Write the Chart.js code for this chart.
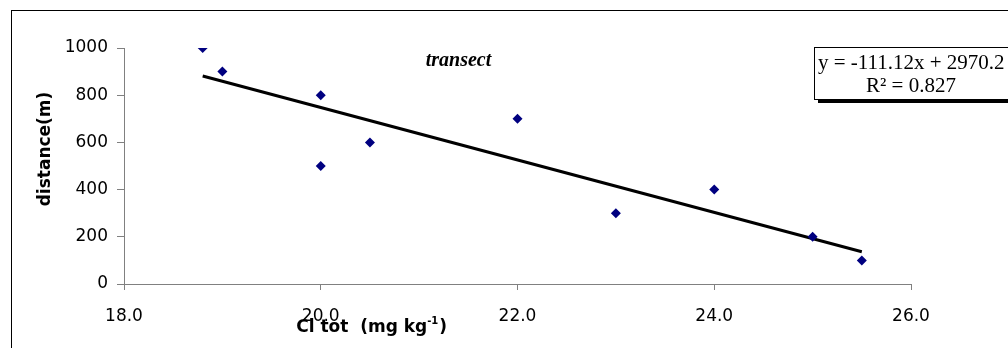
<!DOCTYPE html>
<html>
<head>
<meta charset="utf-8">
<script src="https://cdn.jsdelivr.net/npm/chart.js@4/dist/chart.umd.min.js"></script>
<style>
  html, body { margin: 0; padding: 0; background: #fff; }
  #wrap { position: relative; width: 1008px; height: 348px; overflow: hidden; }
  #frame { position: absolute; left: 11px; top: 10px; width: 1100px; height: 400px;
           border-left: 1px solid #000; border-top: 1px solid #000; }
  canvas { position: absolute; left: 0; top: 0; }
</style>
</head>
<body>
<div id="wrap">
  <div id="frame"></div>
  <canvas id="grafico" width="1008" height="348"></canvas>
</div>
<script>
// dados
const clTot = [18.8, 19.0, 20.0, 20.0, 20.5, 22.0, 23.0, 24.0, 25.0, 25.5];
const distancia = [1000, 900, 800, 500, 600, 700, 300, 400, 200, 100];
const xTicks = [18, 20, 22, 24, 26];
const yTicks = [0, 200, 400, 600, 800, 1000];

// linha de tendência (Excel)
const inclinacao = -111.12;
const intercepto = 2970.2;
const r2 = 0.827;
const trendX = [18.8, 25.5];

const cinza = '#808080';
const sans = '"DejaVu Sans", Arial, sans-serif';
const serif = '"Liberation Serif", "Times New Roman", serif';

// textos extras: título, eixos e caixa da equação
const textos = {
    id: 'textos',
    afterDraw(chart) {
        const c = chart.ctx;
        const xs = chart.scales.x, ys = chart.scales.y;
        c.save();
        c.fillStyle = '#000';

        c.font = 'italic bold 20px ' + serif;
        c.textAlign = 'center';
        c.textBaseline = 'middle';
        c.fillText('transect', xs.getPixelForValue(21.4), ys.getPixelForValue(945));

        // título do eixo x (sobrepõe o rótulo 20.0 como no original)
        c.font = 'bold 17px ' + sans;
        c.textAlign = 'left';
        c.textBaseline = 'alphabetic';
        const x0 = xs.getPixelForValue(19.75);
        const base = 332;
        const t1 = 'Cl tot  (mg kg';
        c.fillText(t1, x0, base);
        let w = c.measureText(t1).width;
        c.font = 'bold 10px ' + sans;
        c.fillText('-1', x0 + w, base - 8);
        w += c.measureText('-1').width;
        c.font = 'bold 17px ' + sans;
        c.fillText(')', x0 + w + 1, base);

        // título do eixo y
        c.save();
        c.translate(46, 149);
        c.rotate(-Math.PI / 2);
        c.font = 'bold 17px ' + sans;
        c.textAlign = 'center';
        c.textBaseline = 'middle';
        c.fillText('distance(m)', 0, 0);
        c.restore();

        // caixa da equação
        const bx = 814, by = 47, bw = 220, bh = 52;
        c.fillStyle = '#000';
        c.fillRect(bx + 4, by + 4, bw, bh);
        c.fillStyle = '#fff';
        c.fillRect(bx, by, bw, bh);
        c.strokeStyle = '#000';
        c.lineWidth = 1;
        c.strokeRect(bx + 0.5, by + 0.5, bw, bh);
        c.fillStyle = '#000';
        c.font = '21px ' + serif;
        c.textAlign = 'left';
        c.textBaseline = 'middle';
        c.fillText('y = ' + inclinacao.toFixed(2) + 'x + ' + intercepto.toFixed(1), bx + 4, by + 16);
        c.fillText('R² = ' + r2.toFixed(3), bx + 52, by + 39);
        c.restore();
    }
};

const ctx = document.getElementById('grafico').getContext('2d');
new Chart(ctx, {
    type: 'scatter',
    data: {
        datasets: [
            {
                data: clTot.map((x, i) => ({ x: x, y: distancia[i] })),
                pointStyle: 'rectRot',
                pointRadius: 5,
                pointHoverRadius: 5,
                backgroundColor: '#000080',
                borderColor: '#000080',
                borderWidth: 0
            },
            {
                type: 'line',
                data: trendX.map(x => ({ x: x, y: inclinacao * x + intercepto })),
                borderColor: '#000',
                borderWidth: 3,
                pointRadius: 0,
                fill: false
            }
        ]
    },
    options: {
        responsive: false,
        animation: false,
        layout: { padding: { left: 0, right: 97, top: 48, bottom: 0 } },
        plugins: {
            legend: { display: false },
            tooltip: { enabled: false }
        },
        scales: {
            x: {
                type: 'linear',
                min: 18,
                max: 26,
                afterBuildTicks: s => { s.ticks = xTicks.map(v => ({ value: v })); },
                afterFit: s => { s.height = 64; },
                ticks: {
                    color: '#000',
                    font: { family: sans, size: 17 },
                    padding: 16,
                    maxRotation: 0,
                    callback: v => v.toFixed(1)
                },
                grid: { drawOnChartArea: false, color: cinza, tickLength: 6 },
                border: { color: cinza, width: 1 }
            },
            y: {
                min: 0,
                max: 1000,
                afterBuildTicks: s => { s.ticks = yTicks.map(v => ({ value: v })); },
                afterFit: s => { s.width = 124; },
                ticks: {
                    color: '#000',
                    font: { family: sans, size: 17 },
                    padding: 9,
                    callback: v => String(v)
                },
                grid: { drawOnChartArea: false, color: cinza, tickLength: 7 },
                border: { color: cinza, width: 1 }
            }
        }
    },
    plugins: [textos]
});
</script>
</body>
</html>
